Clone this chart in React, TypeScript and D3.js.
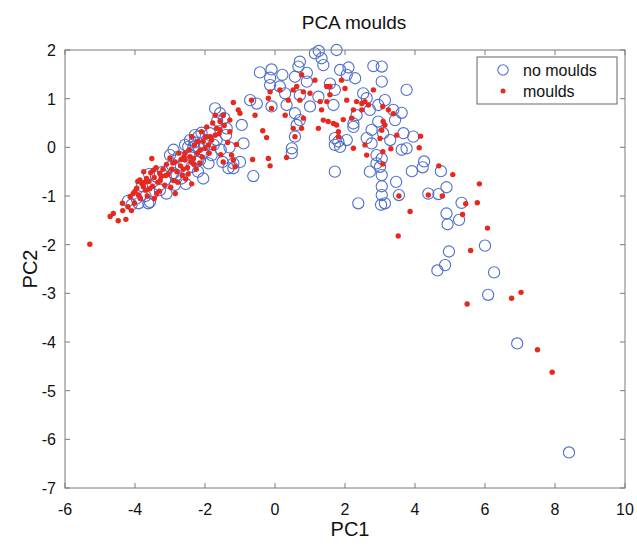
import React from "react";
import * as d3 from "d3";

const xTicks = [-6, -4, -2, 0, 2, 4, 6, 8, 10];
const yTicks = [2, 1, 0, -1, -2, -3, -4, -5, -6, -7];

const noMoulds: [number, number][] = [
  [1.25,1.98],[1.14,1.93],[1.76,2.0],[1.33,1.83],[0.71,1.76],[0.67,1.66],[1.38,1.69],[2.1,1.64],[1.86,1.59],[2.81,1.67],
  [-0.43,1.54],[-0.1,1.6],[0.21,1.49],[-0.14,1.43],[0.91,1.53],[0.57,1.45],[2.05,1.49],[2.29,1.42],[-0.14,1.28],[0.14,1.25],
  [0.91,1.35],[1.57,1.31],[1.71,1.18],[0.29,1.11],[0.71,1.07],[2.52,1.11],[2.62,1.01],[1.24,1.04],[-0.71,0.97],[-0.52,0.9],
  [2.95,0.87],[-0.1,0.84],[0.33,0.87],[1.0,0.84],[1.67,0.87],[0.57,0.7],[2.33,0.66],[2.71,0.77],[0.71,0.56],[2.24,0.49],
  [2.95,0.53],[-0.95,0.46],[0.62,0.46],[2.76,0.36],[2.24,0.42],[0.57,0.22],[1.71,0.19],[1.81,0.12],[2.05,0.15],[1.71,0.05],
  [1.86,0.01],[2.62,0.19],[2.76,0.08],[-0.9,0.08],[0.48,-0.02],[0.48,-0.12],[2.9,-0.16],[-1.0,-0.3],[2.9,-0.33],[1.71,-0.5],
  [2.71,-0.5],[-0.62,-0.59],[2.38,-1.15],
  [3.05,1.66],[3.05,1.35],[3.76,1.18],[3.14,0.97],[3.38,0.77],[3.62,0.71],[3.43,0.56],[3.67,0.29],[3.09,0.29],[3.95,0.22],
  [3.29,0.15],[3.62,-0.05],[3.76,-0.02],[3.05,-0.23],[4.26,-0.29],[4.22,-0.41],[3.91,-0.49],[4.74,-0.49],[3.05,-0.57],[3.46,-0.71],
  [4.9,-0.82],[3.05,-0.98],[3.54,-0.98],[4.38,-0.95],[4.67,-0.96],[3.14,-1.15],[5.33,-1.14],[4.9,-1.36],[5.26,-1.49],[4.93,-1.58],
  [6.0,-2.02],[4.97,-2.14],[4.86,-2.42],[4.64,-2.53],[6.26,-2.57],[6.09,-3.03],[6.92,-4.03],[8.4,-6.27],
  [3.0,-0.4],[3.05,-0.8],[3.03,-1.18],
  [-1.71,0.8],[-1.57,0.7],[-1.38,0.39],[-1.86,0.29],[-1.95,0.15],[-1.67,0.15],[-2.19,0.22],[-2.9,-0.05],[-3.0,-0.16],[-2.76,-0.19],
  [-2.48,0.01],[-2.33,0.01],[-2.19,0.01],[-1.81,-0.16],[-2.05,-0.12],[-2.14,-0.26],[-2.38,-0.4],[-2.24,-0.3],[-1.9,-0.33],[-1.19,-0.33],
  [-1.33,-0.43],[-2.05,-0.64],[-2.67,-0.64],[-2.81,-0.57],[-3.0,-0.4],[-2.9,-0.53],[-3.14,-0.67],[-2.86,-0.77],[-3.1,-0.95],[-3.29,-0.88],
  [-3.62,-1.15],[-3.9,-1.15],[-4.1,-1.18],[-3.57,-1.12],[-3.95,-1.05],[-1.19,-0.43],
  [-4.2,-1.1],[-3.7,-1.0],[-3.5,-0.95],[-3.4,-0.6],[-3.2,-0.5],[-2.6,-0.3],[-2.45,-0.15],[-2.3,0.1],[-2.1,0.3],[-2.0,0.05],
  [-1.75,0.05],[-1.55,-0.05],[-1.4,0.25],[-1.3,0.0],[-1.5,-0.3],[-1.65,0.55],[-2.55,-0.75],[-3.6,-0.55],[-3.8,-0.8],[-2.2,-0.5],
  [-1.45,0.6],[-2.29,0.25],[-2.43,0.15],[-2.57,0.05]
];

const moulds: [number, number][] = [
  [0.76,1.49],[1.14,1.38],[1.9,1.38],[0.62,1.25],[0.52,1.18],[1.48,1.25],[1.57,1.25],[2.0,1.21],[2.81,1.18],[-0.14,1.14],
  [0.14,1.18],[0.81,1.14],[1.0,1.11],[1.57,1.08],[-0.19,1.01],[0.38,0.97],[0.71,0.97],[1.29,0.94],[1.48,0.94],[2.05,0.97],
  [2.33,0.94],[2.48,0.9],[2.57,0.94],[2.67,0.87],[-0.67,0.97],[-0.1,0.8],[1.33,0.77],[0.29,0.66],[2.24,0.77],[2.48,0.77],
  [-0.57,0.66],[0.81,0.6],[1.38,0.56],[1.52,0.53],[1.67,0.49],[1.76,0.46],[1.95,0.57],[2.19,0.6],[0.52,0.39],[0.76,0.39],
  [1.24,0.39],[1.81,0.32],[-0.35,0.34],[-0.24,0.2],[0.57,0.22],[1.81,0.22],[2.57,0.05],[2.24,-0.02],[2.62,-0.16],[0.33,-0.21],
  [-0.64,-0.25],[-0.19,-0.23],[-0.14,-0.38],[3.0,0.18],[3.05,0.35],
  [3.08,0.84],[3.24,0.77],[3.38,0.69],[3.09,0.53],[3.14,0.46],[3.48,0.25],[4.16,0.23],[3.31,-0.03],[4.12,-0.01],[3.08,-0.09],
  [3.08,-0.34],[4.68,-0.38],[5.08,-0.56],[5.84,-0.75],[3.54,-1.0],[4.38,-0.98],[4.78,-1.0],[5.45,-1.16],[5.78,-1.14],[3.86,-1.32],
  [5.36,-1.38],[6.07,-1.66],[3.52,-1.82],[5.59,-2.12],[5.49,-3.22],[6.76,-3.1],[7.03,-2.98],[7.5,-4.16],[7.92,-4.62],
  [-1.19,0.92],[-1.71,0.66],[-1.48,0.66],[-1.05,0.77],[-1.0,0.7],[-1.29,0.56],[-1.57,0.53],[-1.67,0.39],[-1.57,0.36],[-1.71,0.25],
  [-1.29,0.32],[-1.9,0.05],[-1.81,0.15],[-2.38,0.22],[-2.05,0.12],[-2.14,-0.06],[-3.52,-0.23],[-2.57,-0.12],[-2.43,-0.19],[-2.57,-0.26],
  [-2.33,-0.23],[-1.24,-0.16],[-1.19,-0.26],[-1.14,-0.4],[-1.48,-0.3],[-2.38,-0.75],[-3.48,-0.47],[-3.29,-0.53],[-3.67,-0.64],[-3.86,-0.67],
  [-3.76,-0.81],[-3.95,-0.84],[-4.05,-0.95],[-4.14,-1.01],[-4.36,-1.15],[-4.62,-1.36],[-4.71,-1.42],[-4.48,-1.51],[-4.26,-1.48],[-5.29,-1.99],
  [-1.1,0.06],
  [-4.0,-0.9],[-3.9,-0.98],[-3.8,-0.75],[-3.7,-0.88],[-3.6,-0.7],[-3.55,-0.52],[-3.5,-0.8],[-3.45,-0.62],[-3.4,-0.42],[-3.35,-0.72],
  [-3.25,-0.6],[-3.2,-0.45],[-3.15,-0.78],[-3.1,-0.35],[-3.05,-0.55],[-3.0,-0.22],[-2.95,-0.45],[-2.9,-0.68],[-2.85,-0.3],[-2.8,-0.5],
  [-2.75,-0.12],[-2.7,-0.38],[-2.65,-0.58],[-2.6,-0.2],[-2.5,-0.42],[-2.45,-0.05],[-2.4,-0.3],[-2.3,0.05],[-2.25,-0.45],[-2.2,0.12],
  [-2.15,-0.32],[-2.1,0.32],[-2.0,-0.02],[-1.95,0.42],[-1.88,-0.12],[-1.85,0.22],[-1.78,0.5],[-1.75,-0.02],[-1.6,0.28],[-1.55,-0.15],
  [-1.45,0.45],[-1.35,0.1],[-3.85,-1.05],[-4.02,-1.15],[-4.2,-1.22],[-4.1,-1.3],[-3.65,-1.0],[-3.3,-0.9],[-2.98,-0.82],[-3.75,-0.5],
  [-2.85,-0.95],[-2.55,-0.65],[-3.45,-1.05],[-4.35,-1.3],
  [-3.92,-0.7],[-3.58,-0.85],[-3.28,-0.68],[-3.12,-0.58],[-2.92,-0.32],[-2.68,-0.25],[-2.48,-0.55],[-2.32,-0.35],[-2.08,-0.2],[-1.98,0.22],
  [-3.38,-0.95],[-3.72,-0.72],[-2.78,-0.72],[-2.62,-0.45],[-2.22,-0.12]
];

const W = 637, H = 545;
const L = 65, R = 625, T = 50, B = 488;
const FONT = "'Liberation Sans', Arial, Helvetica, sans-serif";
const AX = "#7a7a7a";
const BLUE = "#4f6fcb";
const RED = "#e8281d";

export default function App() {
  const x = d3.scaleLinear().domain([-6, 10]).range([L, R]);
  const y = d3.scaleLinear().domain([-7, 2]).range([B, T]);
  const tl = 5;
  return (
    <svg width={W} height={H} style={{ position: "absolute", left: 0, top: 0, background: "#fff" }}>
      <rect x={0} y={0} width={W} height={H} fill="#fff" />
      <text x={354} y={29} textAnchor="middle" fontFamily={FONT} fontSize={19} fill="#111">PCA moulds</text>
      {noMoulds.map((d, i) => (
        <circle key={"b" + i} cx={x(d[0])} cy={y(d[1])} r={5.6} fill="none" stroke={BLUE} strokeWidth={1.1} />
      ))}
      {moulds.map((d, i) => (
        <circle key={"r" + i} cx={x(d[0])} cy={y(d[1])} r={2.7} fill={RED} />
      ))}
      <rect x={L} y={T} width={R - L} height={B - T} fill="none" stroke={AX} strokeWidth={1} />
      {xTicks.map((t) => (
        <g key={"xt" + t}>
          <line x1={x(t)} x2={x(t)} y1={B} y2={B - tl} stroke={AX} />
          <line x1={x(t)} x2={x(t)} y1={T} y2={T + tl} stroke={AX} />
          <text x={x(t)} y={515} textAnchor="middle" fontFamily={FONT} fontSize={16} fill="#111">{t}</text>
        </g>
      ))}
      {yTicks.map((t) => (
        <g key={"yt" + t}>
          <line x1={L} x2={L + tl} y1={y(t)} y2={y(t)} stroke={AX} />
          <line x1={R} x2={R - tl} y1={y(t)} y2={y(t)} stroke={AX} />
          <text x={56} y={y(t) + 6} textAnchor="end" fontFamily={FONT} fontSize={16} fill="#111">{t}</text>
        </g>
      ))}
      <text x={350} y={536} textAnchor="middle" fontFamily={FONT} fontSize={20} fill="#111">PC1</text>
      <text transform={`translate(37,${(T + B) / 2}) rotate(-90)`} textAnchor="middle" fontFamily={FONT} fontSize={20} fill="#111">PC2</text>
      <g>
        <rect x={477} y={57} width={140} height={47} fill="#fff" stroke="#666" strokeWidth={1} />
        <circle cx={503} cy={70} r={5.2} fill="none" stroke={BLUE} strokeWidth={1.1} />
        <circle cx={503} cy={91} r={2.5} fill={RED} />
        <text x={523} y={76} fontFamily={FONT} fontSize={16} fill="#111">no moulds</text>
        <text x={523} y={97} fontFamily={FONT} fontSize={16} fill="#111">moulds</text>
      </g>
    </svg>
  );
}
